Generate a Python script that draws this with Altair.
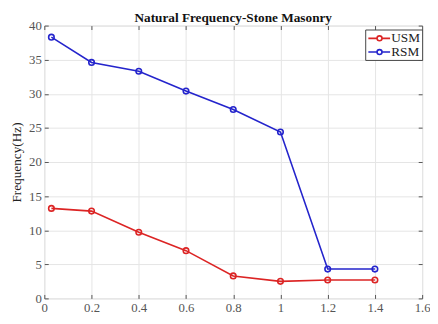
import altair as alt
import pandas as pd

pga = [0.03, 0.2, 0.4, 0.6, 0.8, 1.0, 1.2, 1.4]
usm = [13.2, 12.8, 9.7, 7.0, 3.3, 2.5, 2.7, 2.7]
rsm = [38.3, 34.6, 33.3, 30.4, 27.7, 24.4, 4.3, 4.3]
series = ["USM", "RSM"]
colors = ["#dc2424", "#2424cc"]
xticks = [0, 0.2, 0.4, 0.6, 0.8, 1, 1.2, 1.4, 1.6]
yticks = [0, 5, 10, 15, 20, 25, 30, 35, 40]

rows = []
for name, vals in zip(series, [usm, rsm]):
    for x, y in zip(pga, vals):
        rows.append({"PGA": x, "Freq": y, "Series": name})
df = pd.DataFrame(rows)

font = "Liberation Serif"
sym = "M-2.5,0H-1.1M-0.3,0H1M-0.3,0A0.4,0.4 0 1 1 -1.1,0A0.4,0.4 0 1 1 -0.3,0Z"

cscale = alt.Scale(domain=series, range=colors)
xscale = alt.Scale(domain=[0, 1.6], nice=False)
yscale = alt.Scale(domain=[0, 40], nice=False)

color = alt.Color("Series:N", scale=cscale,
                  legend=alt.Legend(title=None, orient="none", legendX=327, legendY=4,
                                    symbolType=sym, symbolSize=160, symbolStrokeWidth=1.6,
                                    symbolFillColor="transparent", symbolOffset=10,
                                    labelFont=font, labelFontSize=13.5, labelColor="#222",
                                    rowPadding=0, padding=1.5, strokeColor="#444",
                                    fillColor="white", labelOffset=0))

x_main = alt.X("PGA:Q", scale=xscale,
               axis=alt.Axis(values=xticks, format="~g", title="PGA(g)",
                             titleFont=font, titleFontSize=13, titleFontWeight="normal",
                             titleColor="#222", titlePadding=2,
                             labelFont=font, labelFontSize=13, labelColor="#555",
                             ticks=False, labelPadding=3, domain=False,
                             gridColor="#e4e4e4", labelFlush=False))
y_main = alt.Y("Freq:Q", scale=yscale,
               axis=alt.Axis(values=yticks, title="Frequency(Hz)",
                             titleFont=font, titleFontSize=13.5, titleFontWeight="normal",
                             titleColor="#222", titlePadding=5,
                             labelFont=font, labelFontSize=13, labelColor="#555",
                             ticks=False, labelPadding=3, domain=False,
                             gridColor="#e4e4e4"))


def tick_axis(orient, values):
    return alt.Axis(orient=orient, values=values, labels=False, title=None, grid=False,
                    domain=False, ticks=True, tickSize=4, offset=-4,
                    tickColor="#555", tickWidth=1)


x_b = alt.X("PGA:Q", scale=xscale, axis=tick_axis("bottom", xticks))
y_l = alt.Y("Freq:Q", scale=yscale, axis=tick_axis("left", yticks))
x_t = alt.X("PGA:Q", scale=xscale, axis=tick_axis("top", xticks))
y_r = alt.Y("Freq:Q", scale=yscale, axis=tick_axis("right", yticks))

line = alt.Chart(df).mark_line(strokeWidth=1.6).encode(x=x_main, y=y_main, color=color)
pts = alt.Chart(df).mark_point(shape="circle", size=32, filled=False, strokeWidth=1.6,
                               opacity=1).encode(x=x_b, y=y_l,
                                                 color=alt.Color("Series:N", scale=cscale, legend=None))
ghost = alt.Chart(df).mark_point(opacity=0).encode(x=x_t, y=y_r)

chart = alt.layer(line, pts, ghost).resolve_axis(x="independent", y="independent").properties(
    width=385, height=278,
    title=alt.TitleParams("Natural Frequency-Stone Masonry", font=font, fontSize=13.5,
                          fontWeight="bold", color="#111", offset=-5),
    autosize=alt.AutoSizeParams(type="none"),
    padding={"left": 37, "top": 15, "right": 8, "bottom": 15},
).configure_view(stroke="#555", strokeWidth=1).configure_axis(
    labelFont=font, titleFont=font).configure(background="white")

chart.save("out.html", embed_options={"renderer": "svg", "actions": False})
